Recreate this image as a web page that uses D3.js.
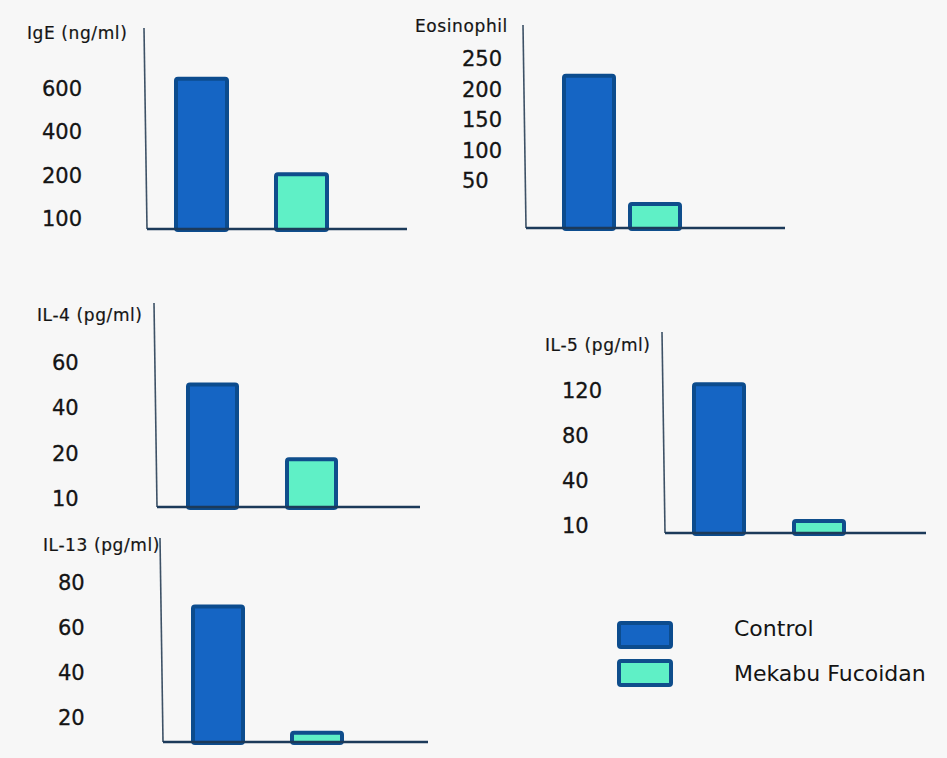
<!DOCTYPE html>
<html>
<head>
<meta charset="utf-8">
<script src="https://cdn.jsdelivr.net/npm/d3@7"></script>
<style>
  html, body { margin: 0; padding: 0; background: #f7f7f7; }
  svg { display: block; }
  text { font-family: "DejaVu Sans", Verdana, sans-serif; fill: #141414; }
</style>
</head>
<body>
<svg id="chart" width="947" height="758"></svg>
<script>
// Groups compared in every panel
const groups = ["Control", "Mekabu Fucoidan"];

// IgE (ng/ml)
const igeTicks = [100, 200, 400, 600];
const igeValues = [650, 210];

// Eosinophil count
const eosTicks = [50, 100, 150, 200, 250];
const eosValues = [224, 27];

// IL-4 (pg/ml)
const il4Ticks = [10, 20, 40, 60];
const il4Values = [51, 19];

// IL-5 (pg/ml)
const il5Ticks = [10, 40, 80, 120];
const il5Values = [127, 14];

// IL-13 (pg/ml)
const il13Ticks = [20, 40, 60, 80];
const il13Values = [70, 9];

const colors = {
  fill: ["#1565c4", "#5ff0c6"],
  stroke: ["#0c4c8e", "#0f4e8c"]
};

// Layout of each small panel: axis origin, tick spacing, bar placement
const panels = [
  { title: "IgE (ng/ml)", ticks: igeTicks, values: igeValues,
    axisX: 147, axisTop: 28, base: 229, axisEnd: 407,
    firstTickY: 218, tickStep: 43.5, labelX: 42,
    titleX: 27, titleY: 39, barLeft: 174, barW: 55, gap: 45 },
  { title: "Eosinophil", ticks: eosTicks, values: eosValues,
    axisX: 526, axisTop: 25, base: 228, axisEnd: 785,
    firstTickY: 180, tickStep: 30.5, labelX: 462,
    titleX: 415, titleY: 32, barLeft: 562, barW: 54, gap: 12 },
  { title: "IL-4 (pg/ml)", ticks: il4Ticks, values: il4Values,
    axisX: 157, axisTop: 303, base: 507, axisEnd: 420,
    firstTickY: 498, tickStep: 45.3, labelX: 52,
    titleX: 37, titleY: 321, barLeft: 186, barW: 53, gap: 46 },
  { title: "IL-5 (pg/ml)", ticks: il5Ticks, values: il5Values,
    axisX: 665, axisTop: 332, base: 533, axisEnd: 926,
    firstTickY: 525, tickStep: 45, labelX: 562,
    titleX: 545, titleY: 351, barLeft: 692, barW: 54, gap: 46 },
  { title: "IL-13 (pg/ml)", ticks: il13Ticks, values: il13Values,
    axisX: 163, axisTop: 538, base: 742, axisEnd: 428,
    firstTickY: 717, tickStep: 45, labelX: 58,
    titleX: 43, titleY: 551, barLeft: 191, barW: 54, gap: 45 }
];

const svg = d3.select("#chart");

panels.forEach(p => {
  const g = svg.append("g");

  // Evenly spaced tick labels with uneven values: piecewise linear scale
  const y = d3.scaleLinear()
    .domain([0, ...p.ticks])
    .range([p.base, ...p.ticks.map((t, i) => p.firstTickY - i * p.tickStep)]);

  const x = d3.scaleBand()
    .domain(groups)
    .range([p.barLeft, p.barLeft + 2 * p.barW + p.gap])
    .paddingInner(p.gap / (p.barW + p.gap))
    .paddingOuter(0);

  // Bars
  const sw = 4;
  g.selectAll("rect.bar")
    .data(groups.map((k, i) => ({ k, i, v: p.values[i] })))
    .join("rect")
    .attr("class", "bar")
    .attr("x", d => x(d.k) + sw / 2)
    .attr("width", x.bandwidth() - sw)
    .attr("y", d => y(d.v) + sw / 2)
    .attr("height", d => Math.max(0, p.base + 1 - y(d.v) - sw / 2))
    .attr("rx", 2)
    .attr("fill", d => colors.fill[d.i])
    .attr("stroke", d => colors.stroke[d.i])
    .attr("stroke-width", sw);

  // Vertical axis line (slightly leaning) and baseline
  g.append("line")
    .attr("x1", p.axisX - 3).attr("y1", p.axisTop)
    .attr("x2", p.axisX).attr("y2", p.base)
    .attr("stroke", "#3d5166").attr("stroke-width", 1.6);
  g.append("line")
    .attr("x1", p.axisX).attr("y1", p.base)
    .attr("x2", p.axisEnd).attr("y2", p.base)
    .attr("stroke", "#1c3a5a").attr("stroke-width", 2.6);

  // Tick labels, left aligned in a column
  const ax = g.append("g")
    .attr("transform", `translate(${p.labelX},0)`)
    .call(d3.axisLeft(y).tickValues(p.ticks).tickSize(0).tickFormat(d3.format("d")));
  ax.select(".domain").remove();
  ax.selectAll("text")
    .attr("x", 0)
    .attr("dy", "0.36em")
    .attr("text-anchor", "start")
    .style("font-family", '"DejaVu Sans", Verdana, sans-serif')
    .style("font-size", "21px")
    .style("fill", "#141414")
    .style("stroke", "#141414")
    .style("stroke-width", "0.3px");

  // Panel title
  g.append("text")
    .attr("x", p.titleX).attr("y", p.titleY)
    .style("font-size", "17px")
    .style("letter-spacing", "0.6px")
    .style("stroke", "#141414")
    .style("stroke-width", "0.2px")
    .text(p.title);
});

// Legend
const legend = svg.append("g");
groups.forEach((k, i) => {
  const ly = 623 + i * 38;
  legend.append("rect")
    .attr("x", 619).attr("y", ly)
    .attr("width", 52).attr("height", 24)
    .attr("rx", 2)
    .attr("fill", colors.fill[i])
    .attr("stroke", colors.stroke[i])
    .attr("stroke-width", 4);
  legend.append("text")
    .attr("x", 734).attr("y", 628 + i * 45)
    .attr("dy", "0.36em")
    .style("font-size", "22px")
    .text(k);
});
</script>
</body>
</html>
